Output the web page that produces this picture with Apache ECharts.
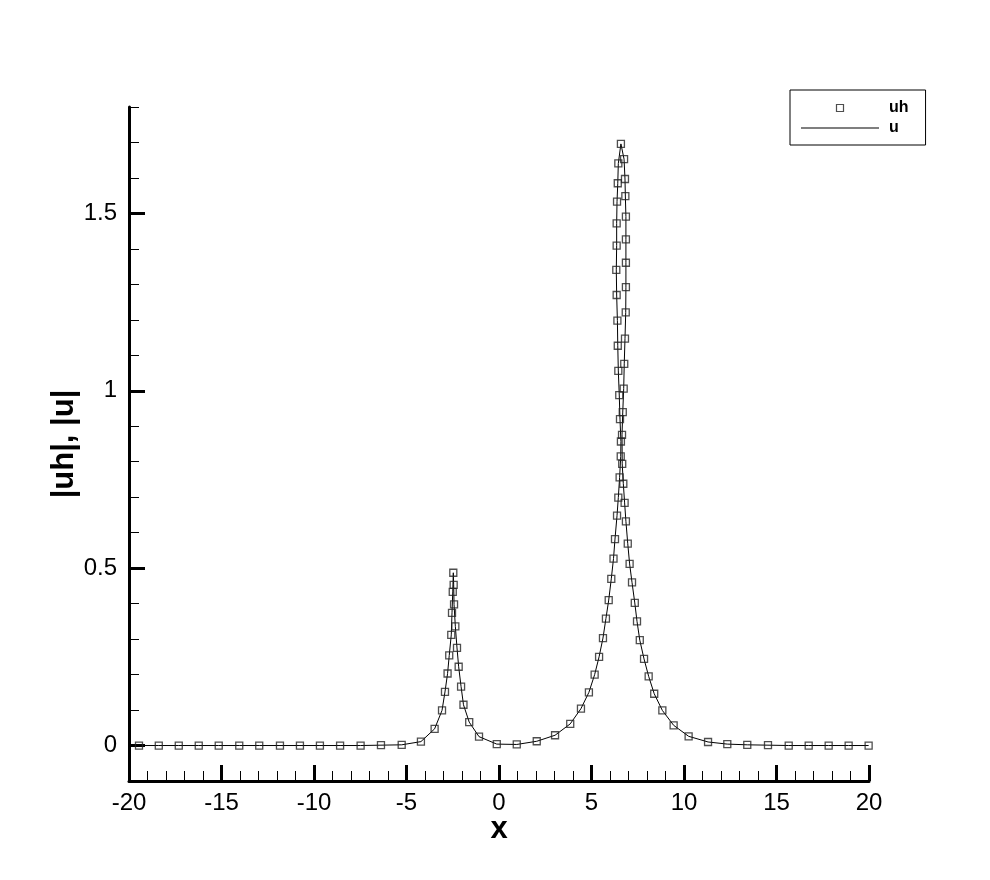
<!DOCTYPE html>
<html>
<head>
<meta charset="utf-8">
<script src="https://cdn.jsdelivr.net/npm/echarts@6/dist/echarts.min.js"></script>
<style>
  html, body { margin: 0; padding: 0; background: #fff; }
  #chart { width: 990px; height: 880px; }
</style>
</head>
<body>
<div id="chart"></div>
<script>
// mesh points x and |uh| values, in the order the curve is traced
var uhX = [
  -19.46, -18.39, -17.31, -16.23, -15.15, -14.04, -12.96, -11.84, -10.76, -9.68, -8.59, -7.48, -6.38, -5.26,
  -4.22, -3.48, -3.08, -2.92, -2.78, -2.69, -2.58, -2.54, -2.50, -2.47,
  -2.45, -2.43, -2.36, -2.27, -2.18, -2.05, -1.92, -1.61, -1.08, -0.12,
  0.96, 2.04, 3.03, 3.85, 4.43, 4.86, 5.17, 5.41, 5.62, 5.78, 5.93, 6.07, 6.19,
  6.27, 6.38, 6.45, 6.52, 6.58, 6.59, 6.54, 6.50, 6.45, 6.42, 6.40, 6.36, 6.34, 6.36, 6.36, 6.38, 6.42, 6.45, 6.59,
  6.76, 6.81, 6.83, 6.86, 6.86, 6.86, 6.86, 6.85, 6.81, 6.77, 6.74, 6.69, 6.65, 6.66, 6.72, 6.79, 6.86,
  6.96, 7.06, 7.19, 7.34, 7.46, 7.61, 7.84, 8.09, 8.39, 8.83, 9.44, 10.25, 11.30, 12.34, 13.42, 14.54, 15.66, 16.74, 17.82, 18.90, 19.98
];
var uhY = [
  0, 0, 0, 0, 0, 0, 0, 0, 0, 0, 0, 0, 0.001, 0.002,
  0.011, 0.047, 0.099, 0.151, 0.203, 0.254, 0.312, 0.374, 0.433, 0.487,
  0.453, 0.398, 0.336, 0.275, 0.222, 0.166, 0.115, 0.066, 0.025, 0.004,
  0.003, 0.012, 0.029, 0.061, 0.104, 0.150, 0.200, 0.250, 0.303, 0.358, 0.410, 0.470, 0.527,
  0.582, 0.648, 0.699, 0.756, 0.815, 0.857, 0.920, 0.988, 1.056, 1.127, 1.198, 1.270, 1.341, 1.409, 1.472, 1.533, 1.585, 1.641, 1.696,
  1.653, 1.597, 1.549, 1.491, 1.427, 1.361, 1.292, 1.221, 1.147, 1.076, 1.006, 0.940, 0.876, 0.794, 0.738, 0.684, 0.632,
  0.569, 0.512, 0.460, 0.402, 0.350, 0.297, 0.244, 0.195, 0.146, 0.099, 0.057, 0.026, 0.010, 0.004, 0.002, 0.001, 0, 0, 0, 0, 0
];
var yMajor = [0, 0.5, 1, 1.5];
var seriesNames = ['uh', 'u'];

var FONT = '"Liberation Sans", Arial, Helvetica, sans-serif';

var pts = [];
for (var i = 0; i < uhX.length; i++) {
  pts.push([uhX[i], uhY[i]]);
}

var chart = echarts.init(document.getElementById('chart'));
var option = {
  animation: false,
  backgroundColor: '#fff',
  grid: { left: 129, right: 121, top: 107, bottom: 99 },
  legend: {
    left: 790,
    top: 90,
    orient: 'vertical',
    backgroundColor: '#fff',
    borderColor: '#000',
    borderWidth: 1,
    borderRadius: 0,
    padding: [10, 17, 9, 11],
    itemWidth: 78,
    itemHeight: 7,
    itemGap: 4,
    symbolKeepAspect: true,
    textStyle: { fontSize: 16, fontWeight: 'bold', color: '#000', fontFamily: FONT, padding: [0, 0, 0, 5] },
    data: [
      { name: seriesNames[0], icon: 'path://M0,0H10V10H0Z',
        itemStyle: { color: 'rgba(255,255,255,0)', borderColor: '#222', borderWidth: 1.2 } },
      { name: seriesNames[1], icon: 'path://M0,0H78V1H0Z',
        itemStyle: { color: '#000', borderWidth: 0 } }
    ]
  },
  xAxis: [{
    type: 'value',
    min: -20,
    max: 20,
    interval: 5,
    name: 'x',
    nameLocation: 'middle',
    nameGap: 33,
    nameMoveOverlap: false,
    nameTextStyle: { fontSize: 31, fontWeight: 'bold', color: '#000', fontFamily: FONT },
    axisLine: { onZero: false, lineStyle: { color: '#000', width: 3 } },
    axisTick: { inside: true, length: 16, lineStyle: { color: '#000', width: 3 } },
    minorTick: { show: true, splitNumber: 5, length: 10, lineStyle: { color: '#000', width: 1 } },
    axisLabel: { color: '#000', fontSize: 24, margin: 10, fontFamily: FONT },
    splitLine: { show: false }
  }],
  yAxis: [{
    type: 'value',
    min: -0.1,
    max: 1.8,
    interval: 0.1,
    name: '|uh|, |u|',
    nameLocation: 'middle',
    nameGap: 49,
    nameMoveOverlap: false,
    nameTextStyle: { fontSize: 31, fontWeight: 'bold', color: '#000', fontFamily: FONT },
    axisLine: { onZero: false, lineStyle: { color: '#000', width: 3 } },
    axisTick: { inside: true, length: 10, lineStyle: { color: '#000', width: 1 } },
    axisLabel: { color: '#000', fontSize: 24, margin: 12, fontFamily: FONT, customValues: yMajor },
    splitLine: { show: false }
  }, {
    type: 'value',
    position: 'left',
    min: -0.1,
    max: 1.8,
    interval: 0.1,
    axisLine: { show: false, onZero: false },
    axisTick: { inside: true, length: 16, lineStyle: { color: '#000', width: 3 }, customValues: yMajor },
    axisLabel: { show: false },
    splitLine: { show: false }
  }],
  series: [{
    name: seriesNames[1],
    type: 'line',
    data: pts,
    symbol: 'none',
    lineStyle: { color: '#000', width: 1 },
    itemStyle: { color: '#000' },
    z: 2
  }, {
    name: seriesNames[0],
    type: 'scatter',
    data: pts,
    symbol: 'rect',
    symbolSize: 7,
    itemStyle: { color: 'rgba(255,255,255,0)', borderColor: '#222', borderWidth: 1.3 },
    z: 3
  }]
};
chart.setOption(option);
</script>
</body>
</html>
